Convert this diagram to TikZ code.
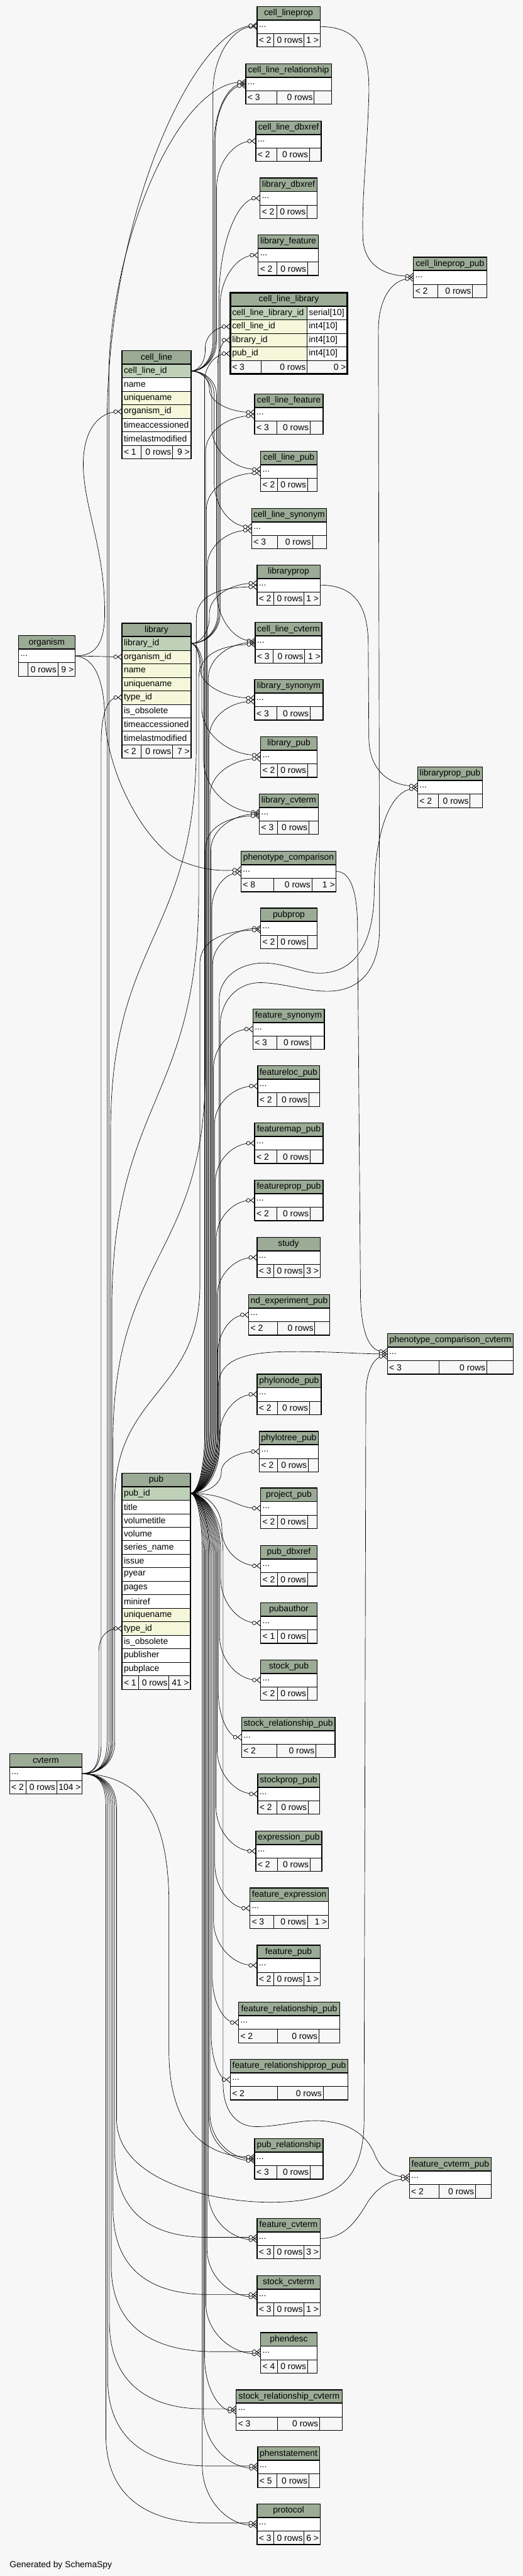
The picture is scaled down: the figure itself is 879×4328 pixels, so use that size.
\documentclass[tikz,border=0pt]{standalone}
\usepackage{fontspec}
\setmainfont{Liberation Sans}
\usetikzlibrary{arrows.meta,calc}
\definecolor{bgc}{HTML}{F7F7F7}
\definecolor{hdrc}{HTML}{9BAB96}
\definecolor{pkc}{HTML}{BED1B8}
\definecolor{idxc}{HTML}{F4F7DA}
\pgfdeclarelayer{bg}
\pgfdeclarelayer{edges}
\pgfsetlayers{bg,edges,main}
\newcommand\tabfont{\fontsize{14.67pt}{17pt}\selectfont}
\tikzset{
 hdr/.style={draw=black, line width=0.6pt, fill=hdrc, minimum height=22.7pt, inner sep=0pt, outer sep=0pt, font=\tabfont, anchor=north west},
 txt/.style={inner sep=0pt, font=\tabfont},
 fk/.style={draw=black, line width=0.7pt, -{Circle[open,fill=white,length=7pt,width=7pt,line width=0.8pt] Straight Barb[reversed,length=6pt,width=10pt,line width=0.9pt]}},
 frame/.style={draw=black, line width=1.2pt},
}
% collapsed table: name, x, y, w, title, split1, split2, left footer, right footer
\newcommand\ctab[9]{%
 \node[hdr, minimum width=#4pt] (#1) at (#2,#3) {#5};
 \filldraw[fill=white, line width=0.6pt] (#2,#3+22.7) rectangle (#2+#4,#3+45.4);
 \node[txt, anchor=west] at (#2+3,#3+34) {...};
 \filldraw[fill=bgc, line width=0.6pt] (#2,#3+45.4) rectangle (#2+#4,#3+68.1);
 \draw[line width=0.6pt] (#2+#6,#3+45.4) -- (#2+#6,#3+68.1) (#2+#7,#3+45.4) -- (#2+#7,#3+68.1);
 \node[txt, anchor=west] at (#2+3,#3+56.75) {#8};
 \node[txt, anchor=east] at (#2+#7-2,#3+56.75) {0 rows};
 \node[txt, anchor=east] at (#2+#4-2,#3+56.75) {#9};
 \draw[line width=2pt] (#2,#3+22.7) -- (#2+#4,#3+22.7);
 \draw[frame] (#2,#3) rectangle (#2+#4,#3+68.1);
 \coordinate (#1-w) at (#2,#3+34);
 \coordinate (#1-e) at (#2+#4,#3+34);
}
\newcommand\trow[5]{\filldraw[fill=#4, line width=0.6pt] (#1,#2) rectangle (#1+#3,#2+22.7); \node[txt,anchor=west] at (#1+3,#2+11.35) {#5};}
\newcommand\tfoot[7]{%
 \filldraw[fill=bgc, line width=0.6pt] (#1,#2) rectangle (#1+#3,#2+22.7);
 \draw[line width=0.6pt] (#1+#4,#2) -- (#1+#4,#2+22.7) (#1+#5,#2) -- (#1+#5,#2+22.7);
 \node[txt,anchor=west] at (#1+3,#2+11.35) {#6};
 \node[txt,anchor=east] at (#1+#5-2,#2+11.35) {0 rows};
 \node[txt,anchor=east] at (#1+#3-2,#2+11.35) {#7};}
% foreign key edge: [opts]{src}{dst}{trunk x}{r1}{r2}
\newcommand\fk[6][]{%
 \draw[fk,#1] let \p1=(#2), \p2=(#3), \n1={(\y2>\y1)*2-1} in
 (#2) .. controls ({\x1+0.55*(#4pt-\x1)},\y1) and (#4pt,{\y1+\n1*#5*0.45}) .. (#4pt,{\y1+\n1*#5})
 -- (#4pt,{\y2-\n1*#6}) .. controls (#4pt,{\y2-\n1*#6*0.45}) and ({#4pt+0.45*(\x2-#4pt)},\y2) .. (#3);}
\begin{document}
\begin{tikzpicture}[x=1pt,y=-1pt]
\useasboundingbox (0,0) rectangle (879,4328);
\begin{pgfonlayer}{bg}\fill[bgc] (0,0) rectangle (879,4328);\end{pgfonlayer}
% ---------- cell_line
\node[hdr, minimum width=116pt] (cell_line) at (205,589.3) {cell\_line};
\trow{205}{612}{116}{pkc}{cell\_line\_id}
\trow{205}{634.7}{116}{white}{name}
\trow{205}{657.4}{116}{idxc}{uniquename}
\trow{205}{680.1}{116}{idxc}{organism\_id}
\trow{205}{702.8}{116}{white}{timeaccessioned}
\trow{205}{725.5}{116}{white}{timelastmodified}
\tfoot{205}{748.2}{116}{32}{85}{< 1}{9 >}
\draw[line width=2pt] (205,612) -- (321,612);
\draw[frame] (205,589.3) rectangle (321,770.9);
\coordinate (cell_line-e) at (321,623.35);
\coordinate (cell_line-org) at (205,691.45);
% ---------- library
\node[hdr, minimum width=116pt] (library) at (205,1047) {library};
\trow{205}{1069.7}{116}{pkc}{library\_id}
\trow{205}{1092.4}{116}{idxc}{organism\_id}
\trow{205}{1115.1}{116}{idxc}{name}
\trow{205}{1137.8}{116}{idxc}{uniquename}
\trow{205}{1160.5}{116}{idxc}{type\_id}
\trow{205}{1183.2}{116}{white}{is\_obsolete}
\trow{205}{1205.9}{116}{white}{timeaccessioned}
\trow{205}{1228.6}{116}{white}{timelastmodified}
\tfoot{205}{1251.3}{116}{32}{85}{< 2}{7 >}
\draw[line width=2pt] (205,1069.7) -- (321,1069.7);
\draw[frame] (205,1047) rectangle (321,1274);
\coordinate (library-e) at (321,1081.05);
\coordinate (library-org) at (205,1103.75);
\coordinate (library-type) at (205,1171.85);
% ---------- pub
\node[hdr, minimum width=115pt] (pub) at (205,2475) {pub};
\trow{205}{2497.7}{115}{pkc}{pub\_id}
\trow{205}{2520.4}{115}{white}{title}
\trow{205}{2543.1}{115}{white}{volumetitle}
\trow{205}{2565.8}{115}{white}{volume}
\trow{205}{2588.5}{115}{white}{series\_name}
\trow{205}{2611.2}{115}{white}{issue}
\trow{205}{2633.9}{115}{white}{pyear}
\trow{205}{2656.6}{115}{white}{pages}
\trow{205}{2679.3}{115}{white}{miniref}
\trow{205}{2702}{115}{idxc}{uniquename}
\trow{205}{2724.7}{115}{idxc}{type\_id}
\trow{205}{2747.4}{115}{white}{is\_obsolete}
\trow{205}{2770.1}{115}{white}{publisher}
\trow{205}{2792.8}{115}{white}{pubplace}
\tfoot{205}{2815.5}{115}{28}{79}{< 1}{41 >}
\draw[line width=2pt] (205,2497.7) -- (320,2497.7);
\draw[frame] (205,2475) rectangle (320,2838.2);
\coordinate (pub-e) at (320,2509.05);
\coordinate (pub-type) at (205,2736.05);
% ---------- cell_line_library (focus)
\node[hdr, minimum width=197pt] (cell_line_library) at (387,492) {cell\_line\_library};
\trow{387}{514.7}{129}{pkc}{cell\_line\_library\_id}\trow{516}{514.7}{68}{white}{serial[10]}
\trow{387}{537.4}{129}{idxc}{cell\_line\_id}\trow{516}{537.4}{68}{white}{int4[10]}
\trow{387}{560.1}{129}{idxc}{library\_id}\trow{516}{560.1}{68}{white}{int4[10]}
\trow{387}{582.8}{129}{idxc}{pub\_id}\trow{516}{582.8}{68}{white}{int4[10]}
\tfoot{387}{605.5}{197}{52}{129}{< 3}{0 >}
\draw[line width=2pt] (387,514.7) -- (584,514.7);
\draw[line width=3.5pt] (387,492) rectangle (584,628.2);
\coordinate (cll-cl) at (387,548.75);
\coordinate (cll-lib) at (387,571.45);
\coordinate (cll-pub) at (387,594.15);
% ---------- collapsed tables
\ctab{organism}{31}{1068}{95}{organism}{16}{66}{}{9 >}
\ctab{cvterm}{16}{2946}{122}{cvterm}{28}{79}{< 2}{104 >}
\ctab{cell_lineprop}{432}{10.7}{106}{cell\_lineprop}{28}{79}{< 2}{1 >}
\ctab{cell_line_relationship}{413}{107}{144}{cell\_line\_relationship}{52}{115}{< 3}{}
\ctab{cell_line_dbxref}{430}{203}{110}{cell\_line\_dbxref}{35}{90}{< 2}{}
\ctab{library_dbxref}{437}{299}{96}{library\_dbxref}{28}{79}{< 2}{}
\ctab{library_feature}{434}{394.7}{101}{library\_feature}{31}{83}{< 2}{}
\ctab{cell_lineprop_pub}{695}{432}{123}{cell\_lineprop\_pub}{41}{99}{< 2}{}
\ctab{cell_line_feature}{428}{661.7}{115}{cell\_line\_feature}{37}{93}{< 3}{}
\ctab{cell_line_pub}{438}{757.7}{95}{cell\_line\_pub}{28}{79}{< 2}{}
\ctab{cell_line_synonym}{423}{854}{126}{cell\_line\_synonym}{43}{102}{< 3}{}
\ctab{libraryprop}{432}{949}{106}{libraryprop}{28}{79}{< 2}{1 >}
\ctab{cell_line_cvterm}{429}{1045.7}{112}{cell\_line\_cvterm}{30}{83}{< 3}{1 >}
\ctab{library_synonym}{428}{1141.7}{115}{library\_synonym}{37}{93}{< 3}{}
\ctab{library_pub}{438}{1237.7}{95}{library\_pub}{28}{79}{< 2}{}
\ctab{library_cvterm}{436}{1333.7}{99}{library\_cvterm}{30}{83}{< 3}{}
\ctab{libraryprop_pub}{702}{1288.7}{109}{libraryprop\_pub}{35}{88}{< 2}{}
\ctab{phenotype_comparison}{405}{1430}{160}{phenotype\_comparison}{55}{119}{< 8}{1 >}
\ctab{pubprop}{438}{1525.7}{95}{pubprop}{28}{79}{< 2}{}
\ctab{feature_synonym}{425}{1695}{120}{feature\_synonym}{40}{97}{< 3}{}
\ctab{featureloc_pub}{433}{1790.7}{104}{featureloc\_pub}{32}{86}{< 2}{}
\ctab{featuremap_pub}{428}{1886.7}{115}{featuremap\_pub}{37}{93}{< 2}{}
\ctab{featureprop_pub}{428}{1982.7}{115}{featureprop\_pub}{37}{93}{< 2}{}
\ctab{study}{432}{2078.7}{106}{study}{28}{79}{< 3}{3 >}
\ctab{nd_experiment_pub}{418}{2175}{136}{nd\_experiment\_pub}{48}{111}{< 2}{}
\ctab{phenotype_comparison_cvterm}{651}{2240.7}{212}{phenotype\_comparison\_cvterm}{87}{167}{< 3}{}
\ctab{phylonode_pub}{432}{2308.7}{108}{phylonode\_pub}{34}{88}{< 2}{}
\ctab{phylotree_pub}{436}{2404.7}{99}{phylotree\_pub}{30}{82}{< 2}{}
\ctab{project_pub}{438}{2500}{95}{project\_pub}{28}{79}{< 2}{}
\ctab{pub_dbxref}{438}{2596.7}{95}{pub\_dbxref}{28}{79}{< 2}{}
\ctab{pubauthor}{438}{2692.7}{95}{pubauthor}{28}{79}{< 1}{}
\ctab{stock_pub}{438}{2788.7}{95}{stock\_pub}{28}{79}{< 2}{}
\ctab{stock_relationship_pub}{406}{2884.7}{157}{stock\_relationship\_pub}{59}{125}{< 2}{}
\ctab{stockprop_pub}{433}{2980}{104}{stockprop\_pub}{32}{85}{< 2}{}
\ctab{expression_pub}{430}{3076}{111}{expression\_pub}{36}{91}{< 2}{}
\ctab{feature_expression}{420}{3172}{132}{feature\_expression}{40}{97}{< 3}{1 >}
\ctab{feature_pub}{432}{3268}{106}{feature\_pub}{28}{79}{< 2}{1 >}
\ctab{feature_relationship_pub}{401}{3364}{170}{feature\_relationship\_pub}{65}{135}{< 2}{}
\ctab{feature_relationshipprop_pub}{387}{3460}{198}{feature\_relationshipprop\_pub}{79}{156}{< 2}{}
\ctab{pub_relationship}{428}{3593}{115}{pub\_relationship}{37}{93}{< 3}{}
\ctab{feature_cvterm_pub}{688}{3625}{138}{feature\_cvterm\_pub}{50}{111}{< 2}{}
\ctab{feature_cvterm}{432}{3727}{106}{feature\_cvterm}{28}{79}{< 3}{3 >}
\ctab{stock_cvterm}{432}{3823}{106}{stock\_cvterm}{28}{79}{< 3}{1 >}
\ctab{phendesc}{438}{3919}{95}{phendesc}{28}{79}{< 4}{}
\ctab{stock_relationship_cvterm}{397}{4015}{178}{stock\_relationship\_cvterm}{69}{140}{< 3}{}
\ctab{phenstatement}{433}{4111}{104}{phenstatement}{32}{86}{< 5}{}
\ctab{protocol}{432}{4207}{106}{protocol}{28}{79}{< 3}{6 >}
\node[txt, anchor=west] (gen) at (16,4310) {Generated by SchemaSpy};
% ================= edges
\begin{pgfonlayer}{edges}
% cell_line
\fk{cell_line-e}{cell_lineprop-w}{358}{50}{110}
\fk{cell_line-e}{cell_line_relationship-w}{360}{50}{100}
\fk{cell_line-e}{[yshift=-3pt]cell_line_relationship-w}{362}{50}{90}
\fk{cell_line-e}{cell_line_dbxref-w}{364}{50}{80}
\fk{cell_line-e}{cll-cl}{345}{35}{35}
\fk{cell_line-e}{[yshift=3pt]cell_line_feature-w}{352}{30}{38}
\fk{cell_line-e}{[yshift=3pt]cell_line_pub-w}{356}{40}{70}
\fk{cell_line-e}{[yshift=3pt]cell_line_synonym-w}{360}{40}{75}
\fk{cell_line-e}{[yshift=3pt]cell_line_cvterm-w}{364}{40}{85}
% library
\fk{library-e}{library_dbxref-w}{368}{50}{170}
\fk{library-e}{library_feature-w}{370}{50}{85}
\fk{library-e}{cll-lib}{366}{50}{40}
\fk{library-e}{[yshift=3pt]libraryprop-w}{352}{45}{50}
\fk{library-e}{[yshift=3pt]library_synonym-w}{336}{40}{50}
\fk{library-e}{[yshift=3pt]library_pub-w}{339}{50}{80}
\fk{library-e}{[yshift=3pt]library_cvterm-w}{342}{50}{90}
% pub upwards
\fk{pub-e}{cll-pub}{344}{100}{45}
\fk{pub-e}{[yshift=-3pt]cell_line_feature-w}{345.5}{100}{60}
\fk{pub-e}{[yshift=-3pt]cell_line_pub-w}{347}{100}{60}
\fk{pub-e}{[yshift=-3pt]cell_line_synonym-w}{348.5}{100}{60}
\fk{pub-e}{cell_line_cvterm-w}{350}{100}{60}
\fk{pub-e}{[yshift=-3pt]library_synonym-w}{351.5}{100}{60}
\fk{pub-e}{[yshift=-3pt]library_pub-w}{353}{100}{60}
\fk{pub-e}{library_cvterm-w}{354.5}{100}{60}
\fk{pub-e}{[yshift=-3pt]phenotype_comparison-w}{356}{100}{60}
\fk{pub-e}{pubprop-w}{357.5}{100}{60}
\fk{pub-e}{feature_synonym-w}{359}{100}{65}
\fk{pub-e}{featureloc_pub-w}{360.5}{100}{65}
\fk{pub-e}{featuremap_pub-w}{362}{100}{65}
\fk{pub-e}{featureprop_pub-w}{363.5}{100}{65}
\fk{pub-e}{study-w}{365}{100}{65}
\fk{pub-e}{nd_experiment_pub-w}{366}{100}{65}
\fk{pub-e}{phylonode_pub-w}{369}{80}{70}
\fk{pub-e}{phylotree_pub-w}{372}{35}{34}
\draw[fk] (pub-e) .. controls (385,2509) and (395,2534) .. (project_pub-w);
% pub downwards
\fk{pub-e}{pub_dbxref-w}{373}{60}{60}
\fk{pub-e}{pubauthor-w}{371}{100}{75}
\fk{pub-e}{stock_pub-w}{369}{100}{75}
\fk{pub-e}{stock_relationship_pub-w}{367}{100}{75}
\fk{pub-e}{stockprop_pub-w}{365}{100}{75}
\fk{pub-e}{expression_pub-w}{363}{100}{75}
\fk{pub-e}{feature_expression-w}{361}{100}{75}
\fk{pub-e}{feature_pub-w}{359}{100}{75}
\fk{pub-e}{feature_relationship_pub-w}{357}{100}{75}
\fk{pub-e}{feature_relationshipprop_pub-w}{355}{100}{75}
\fk{pub-e}{pub_relationship-w}{353}{100}{75}
\fk{pub-e}{[yshift=-3pt]pub_relationship-w}{351.5}{100}{70}
\fk{pub-e}{[yshift=-2pt]feature_cvterm-w}{350}{100}{80}
\fk{pub-e}{[yshift=-2pt]stock_cvterm-w}{348}{100}{80}
\fk{pub-e}{[yshift=-2pt]phendesc-w}{346}{100}{85}
\fk{pub-e}{[yshift=-2pt]stock_relationship_cvterm-w}{344}{100}{90}
\fk{pub-e}{[yshift=-2pt]phenstatement-w}{342}{100}{95}
\fk{pub-e}{[yshift=-2pt]protocol-w}{340}{100}{100}
% right column
\draw[fk] (cell_lineprop-e) .. controls (600,45) and (622,80) .. (620,160) .. controls (617,260) and (608,330) .. (610,400) .. controls (612,445) and (645,464) .. ([yshift=2pt]cell_lineprop_pub-w);
\draw[fk] (pub-e) .. controls (345,2509) and (370,2470) .. (370,2410) -- (370,1725) .. controls (370,1680) and (400,1650) .. (440,1651) .. controls (480,1652) and (520,1668) .. (560,1665) .. controls (612,1661) and (638,1620) .. (638,1560) -- (636,560) .. controls (635,500) and (660,469) .. ([yshift=-2pt]cell_lineprop_pub-w);
\draw[fk] (pub-e) .. controls (345,2509) and (368.5,2470) .. (368.5,2410) -- (368.5,1680) .. controls (368.5,1640) and (405,1618) .. (443,1618) .. controls (480,1618) and (510,1636) .. (540,1635) .. controls (600,1633) and (628,1580) .. (629,1500) .. controls (630,1400) and (655,1327) .. ([yshift=-2pt]libraryprop_pub-w);
\draw[fk] (libraryprop-e) .. controls (590,983) and (618,1010) .. (619,1080) -- (620,1240) .. controls (621,1300) and (660,1320) .. ([yshift=2pt]libraryprop_pub-w);
\draw[fk] (phenotype_comparison-e) .. controls (590,1464) and (601,1500) .. (601,1560) -- (606,2180) .. controls (608,2250) and (625,2271) .. ([yshift=4pt]phenotype_comparison_cvterm-w);
\draw[fk] (pub-e) .. controls (345,2509) and (367,2470) .. (367,2410) -- (367,2330) .. controls (367,2290) and (400,2272) .. (480,2271) .. controls (560,2270) and (600,2275) .. (phenotype_comparison_cvterm-w);
\draw[fk] (pub-e) .. controls (345,2509) and (375,2550) .. (375,2610) -- (375,3500) .. controls (375,3550) and (400,3573) .. (430,3573) .. controls (470,3573) and (500,3562) .. (535,3563) .. controls (590,3565) and (618,3590) .. (630,3620) .. controls (642,3650) and (662,3657) .. ([yshift=2pt]feature_cvterm_pub-w);
\draw[fk] (feature_cvterm-e) .. controls (580,3761) and (600,3730) .. (618,3700) .. controls (636,3672) and (660,3661) .. ([yshift=-2pt]feature_cvterm_pub-w);
% organism
\draw[fk] (organism-e) .. controls (158,1102) and (176,1085) .. (176,1030) .. controls (176,920) and (140,850) .. (140,780) .. controls (140,720) and (168,692) .. (cell_line-org);
\draw[fk] (organism-e) -- (library-org);
\draw[fk] (organism-e) .. controls (158,1104) and (174,1140) .. (176,1200) .. controls (180,1310) and (250,1420) .. (300,1445) .. controls (340,1462) and (370,1464) .. ([yshift=3pt]phenotype_comparison-w);
% cvterm upwards
\draw[fk] (cvterm-e) .. controls (155,2980) and (166,2968) .. (166,2940) -- (166,2775) .. controls (166,2748) and (182,2736) .. (pub-type);
\draw[fk] (cvterm-e) .. controls (158,2980) and (170,2965) .. (170,2930) -- (170,1250) .. controls (170,1195) and (182,1172) .. (library-type);
\draw[fk] (cvterm-e) .. controls (165,2980) and (180,2965) .. (180,2925) -- (180,700) .. controls (184,350) and (330,45) .. ([yshift=2pt]cell_lineprop-w);
\draw[fk] (cvterm-e) .. controls (165,2980) and (183,2965) .. (183,2925) -- (183,620) .. controls (189,400) and (300,138) .. ([yshift=3pt]cell_line_relationship-w);
\draw[fk] (cvterm-e) .. controls (165,2980) and (186,2965) .. (186,2925) -- (186,1900) .. controls (186,1575) and (330,1575) .. (330,1250) -- (330,1040) .. controls (330,995) and (380,986) .. ([yshift=-3pt]libraryprop-w);
\draw[fk] (cvterm-e) .. controls (165,2980) and (188,2965) .. (188,2925) -- (188,2200) .. controls (188,1850) and (334,1850) .. (334,1500) -- (334,1140) .. controls (334,1095) and (380,1083) .. ([yshift=-3pt]cell_line_cvterm-w);
\draw[fk] (cvterm-e) .. controls (165,2980) and (190,2965) .. (190,2925) -- (190,2420) .. controls (190,2110) and (345,2110) .. (345,1800) -- (345,1430) .. controls (345,1385) and (390,1371) .. ([yshift=-3pt]library_cvterm-w);
\draw[fk] (cvterm-e) .. controls (165,2980) and (193,2965) .. (193,2925) -- (193,2520) .. controls (193,2340) and (336,2340) .. (336,2160) -- (336,1620) .. controls (336,1575) and (385,1563) .. ([yshift=-3pt]pubprop-w);
% cvterm downwards
\draw[fk] (cvterm-e) .. controls (170,2980) and (196,2995) .. (196,3040) -- (196,3560) .. controls (196,3665) and (360,3700) .. (454,3700) .. controls (560,3700) and (612,3670) .. (612,3560) -- (615,2340) .. controls (616,2300) and (630,2279) .. ([yshift=-4pt]phenotype_comparison_cvterm-w);
\draw[fk] (cvterm-e) .. controls (165,2980) and (193,2995) .. (193,3035) -- (193,3620) .. controls (195,3730) and (270,3759) .. (350,3759) -- ([yshift=2pt]feature_cvterm-w);
\draw[fk] (cvterm-e) .. controls (165,2980) and (190,2995) .. (190,3035) -- (190,3715) .. controls (192,3826) and (270,3855) .. (350,3855) -- ([yshift=2pt]stock_cvterm-w);
\draw[fk] (cvterm-e) .. controls (165,2980) and (187,2995) .. (187,3035) -- (187,3810) .. controls (189,3922) and (275,3951) .. (360,3951) -- ([yshift=2pt]phendesc-w);
\draw[fk] (cvterm-e) .. controls (165,2980) and (184,2995) .. (184,3035) -- (184,3905) .. controls (186,4018) and (270,4047) .. (340,4047) -- ([yshift=2pt]stock_relationship_cvterm-w);
\draw[fk] (cvterm-e) .. controls (165,2980) and (181,2995) .. (181,3035) -- (181,4000) .. controls (183,4114) and (270,4143) .. (350,4143) -- ([yshift=2pt]phenstatement-w);
\draw[fk] (cvterm-e) .. controls (165,2980) and (178,2995) .. (178,3035) -- (178,4095) .. controls (180,4210) and (270,4239) .. (350,4239) -- ([yshift=2pt]protocol-w);
\draw[fk] (cvterm-e) .. controls (230,2982) and (284,3040) .. (284,3200) -- (284,3450) .. controls (285,3570) and (340,3624) .. ([yshift=3pt]pub_relationship-w);
\end{pgfonlayer}
\end{tikzpicture}
\end{document}
